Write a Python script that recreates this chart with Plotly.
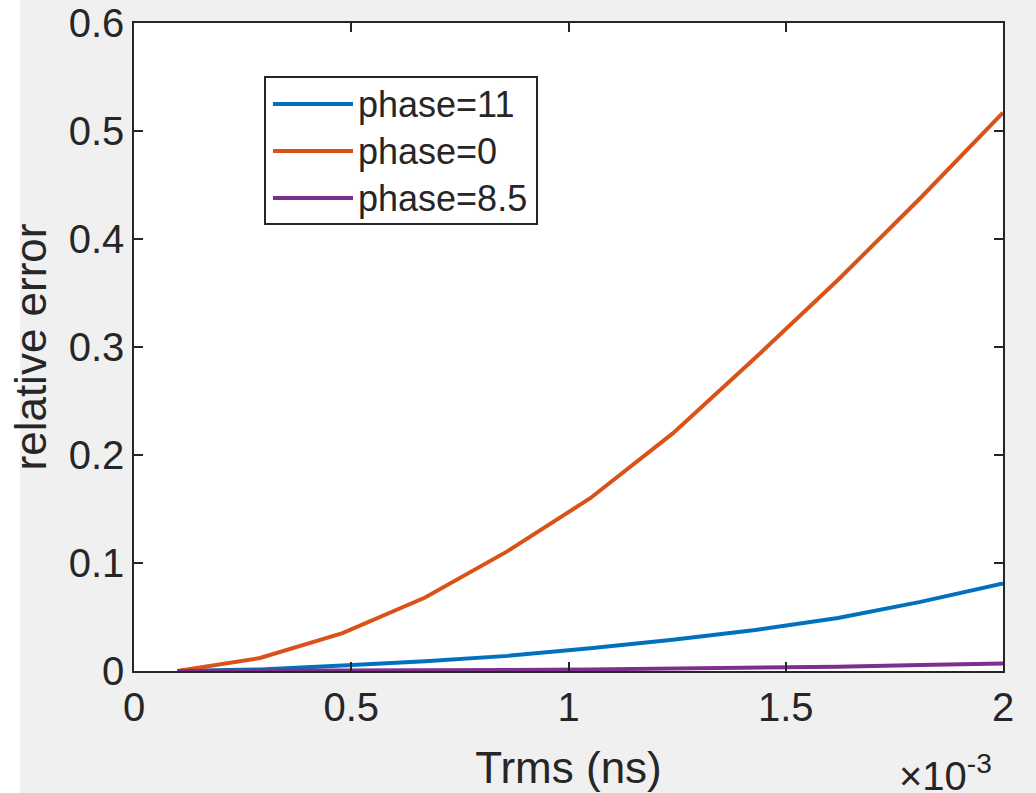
import plotly.graph_objects as go

# RMS delay spread samples (ns) and the relative error for each phase setting
trms_ns = [0.0001, 0.00029, 0.00048, 0.00067, 0.00086, 0.00105,
           0.00124, 0.00143, 0.00162, 0.00181, 0.0020]
err_phase_11 = [0.0, 0.0015, 0.005, 0.009, 0.014, 0.021,
                0.029, 0.038, 0.049, 0.064, 0.081]
err_phase_0 = [0.0, 0.012, 0.035, 0.068, 0.111, 0.160,
               0.220, 0.290, 0.362, 0.438, 0.517]
err_phase_8_5 = [0.0, 0.0001, 0.0002, 0.0005, 0.001, 0.0015,
                 0.0022, 0.003, 0.004, 0.0055, 0.007]

series_names = ["phase=11", "phase=0", "phase=8.5"]
series_values = [err_phase_11, err_phase_0, err_phase_8_5]
series_colors = ["#0072BD", "#D95319", "#7E2F8E"]

x_tick_vals = [0, 0.0005, 0.001, 0.0015, 0.002]
x_tick_text = ["0", "0.5", "1", "1.5", "2"]
y_tick_vals = [0, 0.1, 0.2, 0.3, 0.4, 0.5, 0.6]
y_tick_text = ["0", "0.1", "0.2", "0.3", "0.4", "0.5", "0.6"]

W, H = 1036, 793
L, R, T, B = 134, 1003, 23, 671  # plot area in pixels
FONT = "Liberation Sans, Arial, Helvetica, sans-serif"
INK = "#262626"


def px(x):
    return (x - L) / (R - L)


def py(y):
    return (B - y) / (B - T)


fig = go.Figure()
for name, vals, col in zip(series_names, series_values, series_colors):
    fig.add_trace(go.Scatter(x=trms_ns, y=vals, mode="lines", name=name,
                             line=dict(color=col, width=4),
                             showlegend=False))

shapes = [
    # pale strip along the left edge of the canvas
    dict(type="rect", xref="paper", yref="paper", layer="below",
         x0=px(0), x1=px(20), y0=py(H + 5), y1=py(-5),
         fillcolor="white", line=dict(width=0)),
    # legend box
    dict(type="rect", xref="paper", yref="paper",
         x0=px(265), x1=px(537), y0=py(224), y1=py(77),
         fillcolor="white", line=dict(color=INK, width=2)),
]
annotations = []
row_y = [104, 151, 198]
for name, col, ry in zip(series_names, series_colors, row_y):
    shapes.append(dict(type="line", xref="paper", yref="paper",
                       x0=px(273), x1=px(353), y0=py(ry), y1=py(ry),
                       line=dict(color=col, width=4)))
    annotations.append(dict(text=name, xref="paper", yref="paper",
                            x=px(356), y=py(ry), xanchor="left",
                            yanchor="middle", showarrow=False,
                            font=dict(family=FONT, size=36, color=INK)))

# exponent multiplier for the x axis
annotations.append(dict(text="\u00d710<sup>-3</sup>", xref="paper",
                        yref="paper", x=px(897), y=py(800),
                        xanchor="left", yanchor="bottom", showarrow=False,
                        font=dict(family=FONT, size=40, color=INK)))

axis_common = dict(showline=True, mirror="allticks", linecolor=INK,
                   linewidth=1.5, ticks="inside", ticklen=9, tickwidth=1.5,
                   tickcolor=INK, showgrid=False, zeroline=False,
                   automargin=False,
                   tickfont=dict(family=FONT, size=40, color=INK))

fig.update_layout(
    width=W, height=H,
    margin=dict(l=L, r=W - R, t=T, b=H - B, pad=0),
    paper_bgcolor="#f0f0f0", plot_bgcolor="white",
    font=dict(family=FONT, size=40, color=INK),
    shapes=shapes, annotations=annotations,
    xaxis=dict(range=[0, 0.002], tickvals=x_tick_vals, ticktext=x_tick_text,
               title=dict(text="Trms (ns)", standoff=24,
                          font=dict(family=FONT, size=44, color=INK)),
               **axis_common),
    yaxis=dict(range=[0, 0.6], tickvals=y_tick_vals, ticktext=y_tick_text,
               title=dict(text="relative error", standoff=8,
                          font=dict(family=FONT, size=44, color=INK)),
               **axis_common),
)

fig.write_html("out.html")
